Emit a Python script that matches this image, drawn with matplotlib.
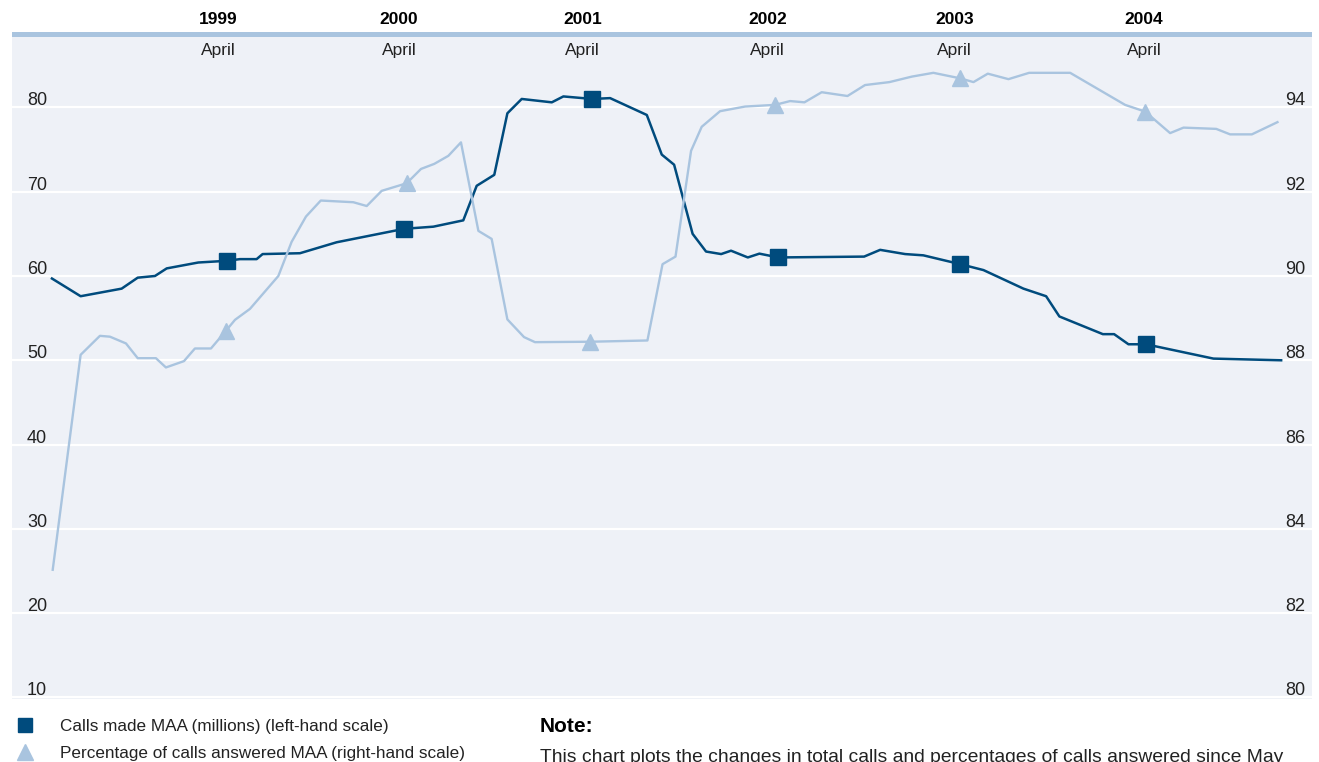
"""
Calls made and percentage of calls answered, May 1998 - Jan 2005.
"""

import matplotlib
matplotlib.use("Agg")
import matplotlib.pyplot as plt
from matplotlib.lines import Line2D
from matplotlib.patches import Rectangle
import matplotlib.transforms as mtransforms

plt.rcParams['font.family'] = ['Liberation Sans', 'DejaVu Sans']

# Months since May 1998
calls_x = [0.0, 1.86, 4.52, 5.56, 6.68, 7.44, 9.49, 11.33, 12.19, 13.27, 13.66,
           16.08, 18.46, 22.85, 24.73, 26.67, 27.54, 28.68, 29.53, 30.46, 32.41,
           33.16, 35.04, 36.19, 38.57, 39.54, 40.34, 41.54, 42.41, 43.39, 44.03,
           45.12, 45.87, 47.1, 52.66, 53.7, 55.32, 56.5, 58.9, 60.4, 62.99,
           64.46, 65.32, 68.14, 68.87, 69.8, 70.93, 75.31, 79.7]
# Calls made MAA (millions)
calls_made = [59.7, 57.6, 58.5, 59.8, 60.0, 60.9, 61.6, 61.8, 62.0, 62.0, 62.6,
              62.7, 64.0, 65.6, 65.85, 66.6, 70.7, 72.0, 79.3, 81.0, 80.6,
              81.3, 81.0, 81.1, 79.1, 74.4, 73.2, 65.0, 62.9, 62.6, 63.0,
              62.2, 62.65, 62.2, 62.3, 63.1, 62.6, 62.45, 61.4, 60.7, 58.5,
              57.6, 55.2, 53.1, 53.1, 51.9, 51.9, 50.2, 50.0]
calls_markers = [7, 13, 22, 33, 38, 46]

answered_x = [0.05, 1.86, 3.11, 3.76, 4.8, 5.56, 6.74, 7.39, 8.56, 9.27, 10.31,
              11.28, 11.87, 12.84, 14.68, 15.54, 16.47, 17.43, 19.54, 20.41,
              21.38, 23.0, 23.93, 24.79, 25.7, 26.52, 27.65, 28.51, 29.53,
              30.61, 31.32, 34.89, 38.61, 39.59, 40.43, 41.44, 42.13, 43.32,
              44.94, 46.89, 47.86, 48.79, 49.91, 51.58, 52.72, 54.3, 55.75,
              57.15, 58.88, 59.75, 60.68, 62.02, 63.36, 66.02, 69.58, 70.88,
              72.5, 73.37, 75.49, 76.39, 77.8, 79.46]
# Percentage of calls answered MAA
answered_pct = [83.03, 88.13, 88.58, 88.56, 88.40, 88.05, 88.05, 87.83, 87.98,
                88.28, 88.28, 88.70, 88.96, 89.22, 90.0, 90.81, 91.41, 91.79,
                91.75, 91.66, 92.02, 92.2, 92.54, 92.66, 92.85, 93.17, 91.07,
                90.88, 88.97, 88.55, 88.43, 88.44, 88.47, 90.28, 90.46, 92.97,
                93.54, 93.91, 94.02, 94.06, 94.15, 94.12, 94.36, 94.27, 94.53,
                94.60, 94.73, 94.82, 94.69, 94.60, 94.80, 94.67, 94.82, 94.82,
                94.06, 93.9, 93.39, 93.52, 93.49, 93.36, 93.36, 93.65]
answered_markers = [11, 21, 31, 39, 48, 55]

years = ['1999', '2000', '2001', '2002', '2003', '2004']
april_pos = [10.8, 22.5, 34.4, 46.4, 58.5, 70.8]

left_ticks = [10, 20, 30, 40, 50, 60, 70, 80]
right_ticks = [80, 82, 84, 86, 88, 90, 92, 94]

DARK = '#004b7d'
LIGHT = '#a9c4df'
BG = '#eef1f7'
TEXT = '#222222'

fig = plt.figure(figsize=(13.19, 7.62), dpi=100)
ax = fig.add_axes([12 / 1319, 63 / 762, 1300 / 1319, 662 / 762])
ax.set_facecolor(BG)
ax2 = ax.twinx()

ax.set_xlim(-2.59, 81.7)
ax.set_ylim(9.82, 88.35)
ax2.set_ylim(79.964, 95.67)

# Horizontal grid only, no visible ticks or spines
ax.set_yticks(left_ticks)
ax.set_xticks([])
ax.grid(axis='y', color='white', linewidth=1.6)
ax.tick_params(left=False, labelleft=False)
ax2.set_yticks([])
for a in (ax, ax2):
    for s in a.spines.values():
        s.set_visible(False)

ax2.plot(answered_x, answered_pct, color=LIGHT, linewidth=1.7,
         marker='^', markersize=12, markevery=answered_markers, zorder=2)
ax.plot(calls_x, calls_made, color=DARK, linewidth=1.8,
        marker='s', markersize=11, markevery=calls_markers, zorder=3)

# Axis values sit just above their gridlines, inside the plot
left_tr = mtransforms.blended_transform_factory(ax.transAxes, ax.transData)
for v in left_ticks:
    ax.annotate(str(v), (0, v), xycoords=left_tr, xytext=(15, -2),
                textcoords='offset pixels', ha='left', va='bottom',
                fontsize=13, color=TEXT)
right_tr = mtransforms.blended_transform_factory(ax2.transAxes, ax2.transData)
for v in right_ticks:
    ax2.annotate(str(v), (1, v), xycoords=right_tr, xytext=(-7, -2),
                 textcoords='offset pixels', ha='right', va='bottom',
                 fontsize=13, color=TEXT)

# Year header band
ax.add_patch(Rectangle((0, 1), 1, 5 / 662, transform=ax.transAxes,
                       facecolor=LIGHT, edgecolor='none', clip_on=False))
top_tr = mtransforms.blended_transform_factory(ax.transData, ax.transAxes)
for pos, yr in zip(april_pos, years):
    ax.annotate(yr, (pos, 1), xycoords=top_tr, xytext=(0, 18),
                textcoords='offset pixels', ha='center', va='center',
                fontsize=12.5, fontweight='bold', color='black')
    ax.annotate('April', (pos, 1), xycoords=top_tr, xytext=(0, -13),
                textcoords='offset pixels', ha='center', va='center',
                fontsize=12.5, color=TEXT)

# Legend
handles = [
    Line2D([], [], color=DARK, marker='s', linestyle='none', markersize=10),
    Line2D([], [], color=LIGHT, marker='^', linestyle='none', markersize=11),
]
labels = ['Calls made MAA (millions) (left-hand scale)',
          'Percentage of calls answered MAA (right-hand scale)']
fig.legend(handles, labels, loc='upper left', bbox_to_anchor=(6 / 1319, 1 - 710 / 762),
           frameon=False, fontsize=12.3, handletextpad=1.45, labelspacing=0.75,
           borderpad=0, handlelength=1.2, labelcolor=TEXT)

fig.text(540 / 1319, 1 - 727 / 762, 'Note:', fontsize=15, fontweight='bold',
         ha='left', va='center', color='black')
fig.text(540 / 1319, 1 - 757 / 762,
         'This chart plots the changes in total calls and percentages of calls answered since May',
         fontsize=13.9, ha='left', va='center', color=TEXT)

fig.savefig('out.png', dpi=100, facecolor='white')
